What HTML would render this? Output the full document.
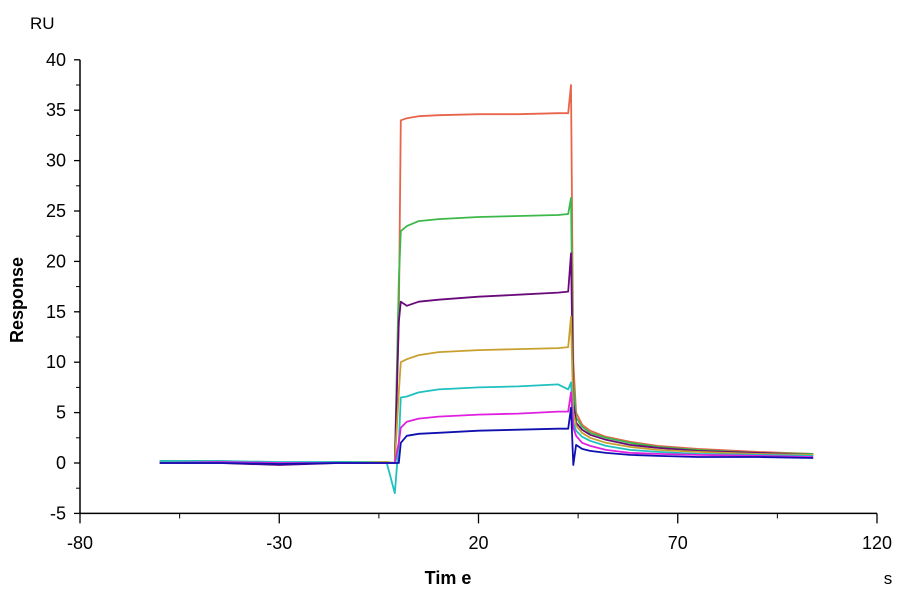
<!DOCTYPE html>
<html><head><meta charset="utf-8"><style>
html,body{margin:0;padding:0;background:#fff;}
svg text{font-family:"Liberation Sans",Arial,sans-serif;fill:#000;}
</style></head><body>
<svg width="900" height="600" viewBox="0 0 900 600">
<g id="axes"></g>
<g id="series"></g>
<text x="30" y="29" font-size="17">RU</text>
<text transform="translate(23,300) rotate(-90)" text-anchor="middle" font-size="18" font-weight="bold">Response</text>
<text x="448" y="584" text-anchor="middle" font-size="18" font-weight="bold">Tim e</text>
<text x="888" y="584" text-anchor="middle" font-size="17">s</text>
</svg>
<script>
const xTicks=[-80,-30,20,70,120];
const xMinor=[-55,-5,45,95];
const yTicks=[-5,0,5,10,15,20,25,30,35,40];
const times=[-60,-45,-30,-15,-3,-1,0,0.5,2,5,10,20,30,40,42.5,43.2,43.8,44.5,46,48,52,58,65,75,90,104];
const orangeVals=[0.2,0.1,0,0.1,0,0,14,34,34.2,34.4,34.5,34.6,34.6,34.7,34.7,37.5,10,5,3.8,3.2,2.6,2.1,1.7,1.4,1.1,0.9];
const greenVals=[0.2,0.2,0,0.1,0.1,0,18,23,23.5,24,24.2,24.4,24.5,24.6,24.7,26.3,8,4.5,3.6,3.0,2.5,2.0,1.6,1.3,1.0,0.9];
const purpleVals=[0,0,-0.2,0,0,0,14,16,15.6,16,16.2,16.5,16.7,16.9,17,20.8,6,4,3.3,2.8,2.3,1.8,1.5,1.2,1.0,0.8];
const goldVals=[0.1,0.1,0,0,0.1,0,7,10,10.3,10.7,11,11.2,11.3,11.4,11.5,14.5,5,3.7,3,2.5,2,1.6,1.3,1.1,0.9,0.8];
const cyanVals=[0.2,0.2,0.1,0.1,0,-3,2,6.5,6.6,7,7.3,7.5,7.6,7.8,7.3,8,4,3.2,2.6,2.2,1.7,1.3,1.1,0.9,0.8,0.7];
const magentaVals=[0,0.1,0,0,0,0,2,3.5,4.1,4.4,4.6,4.8,4.9,5.1,5.1,7,3.5,2.7,2,1.7,1.3,1.0,0.9,0.8,0.7,0.6];
const blueVals=[0,0,-0.1,0,0,0,0,2,2.7,2.9,3.0,3.2,3.3,3.4,3.4,5.5,-0.2,1.8,1.4,1.2,1.0,0.8,0.7,0.6,0.6,0.5];
const seriesList=[["orange",orangeVals,"#e8644a"],["green",greenVals,"#3cb84a"],["purple",purpleVals,"#6a0a7a"],["gold",goldVals,"#c8a030"],["cyan",cyanVals,"#20c0c0"],["magenta",magentaVals,"#e020e0"],["blue",blueVals,"#1010b0"]];
const NS="http://www.w3.org/2000/svg";
function sx(t){return 80+(t+80)*(797/200);}
function sy(v){return 463-v*10.08;}
const ax=document.getElementById('axes');
function mk(tag,attrs,parent){const e=document.createElementNS(NS,tag);for(const k in attrs)e.setAttribute(k,attrs[k]);parent.appendChild(e);return e;}
let l=mk('line',{x1:80,y1:sy(-5),x2:877,y2:sy(-5),stroke:'#000','stroke-width':1.5},ax);


l=mk('line',{x1:80,y1:sy(-5),x2:80,y2:sy(40),stroke:'#000','stroke-width':1.5},ax);


xTicks.forEach(t=>{
 const tk=mk('line',{x1:sx(t),y1:sy(-5),x2:sx(t),y2:sy(-5)+10,stroke:'#000','stroke-width':1.3},ax);
 
 
 const tx=mk('text',{x:sx(t),y:549,'text-anchor':'middle','font-size':18},ax);
 tx.textContent=t;
 
 
});
xMinor.forEach(t=>{
 const tk=mk('line',{x1:sx(t),y1:sy(-5),x2:sx(t),y2:sy(-5)+5,stroke:'#000','stroke-width':1},ax);
 
 
});
yTicks.forEach(v=>{
 const tk=mk('line',{x1:74,y1:sy(v),x2:80,y2:sy(v),stroke:'#000','stroke-width':1.3},ax);
 
 
 const tx=mk('text',{x:66,y:sy(v)+6,'text-anchor':'end','font-size':18},ax);
 tx.textContent=v;
 
 
 if(v!==-5){const m=mk('line',{x1:76,y1:sy(v-2.5),x2:80,y2:sy(v-2.5),stroke:'#000','stroke-width':1},ax);
 
 }
});
const sg=document.getElementById('series');
seriesList.forEach(([name,vals,color])=>{
 const d=times.map((t,i)=>(i?'L':'M')+sx(t).toFixed(1)+','+sy(vals[i]).toFixed(1)).join('');
 const p=mk('path',{d:d,fill:'none',stroke:color,'stroke-width':1.8,'stroke-linejoin':'round'},sg);
 
 
});
</script>
</body></html>
